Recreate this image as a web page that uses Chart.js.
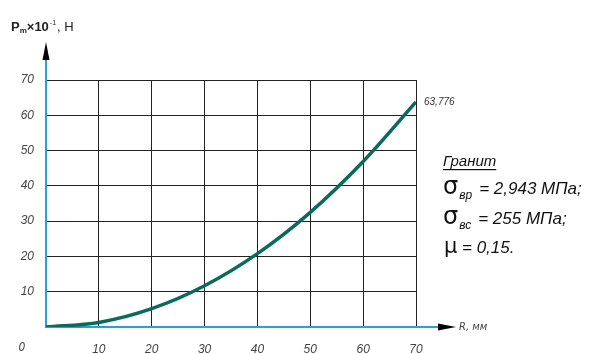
<!DOCTYPE html>
<html>
<head>
<meta charset="utf-8">
<script src="https://cdn.jsdelivr.net/npm/chart.js@4/dist/chart.umd.min.js"></script>
<style>
  html, body { margin: 0; padding: 0; background: #fff; }
  #wrap { width: 594px; height: 354px; }
</style>
</head>
<body>
<div id="wrap"><canvas id="grafico"></canvas></div>
<script>
// R, мм
const radii = [0, 10, 20, 30, 40, 50, 60, 70];
// Pm x 10^-1, H
const forces = [0, 1.3, 5.2, 11.7, 20.8, 32.5, 46.9, 63.776];
const xTicks = [0, 10, 20, 30, 40, 50, 60, 70];
const yTicks = [0, 10, 20, 30, 40, 50, 60, 70];
const endLabel = '63,776';

const axisBlue = '#2b9fd8';
const curveColor = '#0b6a5a';
const italic = 'italic 12px "Liberation Sans Narrow", "DejaVu Sans Condensed", sans-serif';

const decor = {
    id: 'decor',
    afterDraw(chart) {
        const c = chart.ctx;
        const xs = chart.scales.x, ys = chart.scales.y;
        const x0 = xs.getPixelForValue(0), y0 = ys.getPixelForValue(0);
        const xEnd = xs.getPixelForValue(70), yTop = ys.getPixelForValue(70);
        c.save();
        // axis extensions
        c.strokeStyle = axisBlue;
        c.lineWidth = 2;
        c.beginPath();
        c.moveTo(x0, yTop); c.lineTo(x0, yTop - 26);
        c.moveTo(xEnd, y0); c.lineTo(xEnd + 26, y0);
        c.stroke();
        // arrowheads
        c.fillStyle = '#000';
        c.beginPath();
        c.moveTo(x0, yTop - 38); c.lineTo(x0 - 3.5, yTop - 20); c.lineTo(x0 + 3.5, yTop - 20);
        c.closePath(); c.fill();
        c.beginPath();
        c.moveTo(xEnd + 40, y0); c.lineTo(xEnd + 22, y0 - 3.5); c.lineTo(xEnd + 22, y0 + 3.5);
        c.closePath(); c.fill();

        // origin label
        c.fillStyle = '#444';
        c.font = italic;
        c.textAlign = 'center';
        c.textBaseline = 'middle';
        c.fillText('0', 22, 348);

        // x axis title
        c.textAlign = 'left';
        c.font = 'italic 11px "Liberation Sans Narrow", "DejaVu Sans Condensed", sans-serif';
        c.fillText('R, мм', xEnd + 43, y0);

        // y axis title: Pm×10^-1, H
        c.fillStyle = '#222';
        c.textBaseline = 'alphabetic';
        let tx = 11, ty = 31;
        c.font = 'bold 13px "Liberation Sans Narrow", sans-serif';
        c.fillText('P', tx, ty); tx += c.measureText('P').width;
        c.font = 'bold 8px "Liberation Sans Narrow", sans-serif';
        c.fillText('m', tx, ty + 2); tx += c.measureText('m').width;
        c.font = 'bold 13px "Liberation Sans Narrow", sans-serif';
        c.fillText('×10', tx, ty); tx += c.measureText('×10').width;
        c.font = '7px "Liberation Sans Narrow", sans-serif';
        c.fillText('-1', tx + 1, ty - 6); tx += c.measureText('-1').width + 2;
        c.font = '13px "Liberation Sans Narrow", sans-serif';
        c.fillText(', H', tx, ty);

        // end value label
        const meta = chart.getDatasetMeta(0);
        const last = meta.data[meta.data.length - 1];
        c.fillStyle = '#333';
        c.font = 'italic 10px "Liberation Sans Narrow", sans-serif';
        c.textBaseline = 'middle';
        c.fillText(endLabel, last.x + 8, last.y);

        // material block
        const bx = 443;
        c.fillStyle = '#111';
        c.font = 'italic 15px "Liberation Sans Narrow", sans-serif';
        c.textBaseline = 'alphabetic';
        c.fillText('Гранит', bx, 166);
        const w = c.measureText('Гранит').width;
        c.fillRect(bx, 169, w, 1.2);

        const sigma = (sub, rest, y) => {
            c.font = '24px "DejaVu Sans", sans-serif';
            c.fillText('σ', bx, y);
            let px = bx + c.measureText('σ').width + 1;
            c.font = 'italic 12px "Liberation Sans Narrow", sans-serif';
            c.fillText(sub, px, y + 5);
            px += c.measureText(sub).width + 7;
            c.font = 'italic 17px "Liberation Sans Narrow", sans-serif';
            c.fillText(rest, px, y);
        };
        sigma('вр', '= 2,943 МПа;', 194);
        sigma('вс', '= 255 МПа;', 224);
        c.font = '21px "DejaVu Sans", sans-serif';
        c.fillText('μ', bx + 1, 253);
        c.font = 'italic 17px "Liberation Sans Narrow", sans-serif';
        c.fillText('= 0,15.', bx + 19, 253);
        c.restore();
    }
};

new Chart(document.getElementById('grafico'), {
    type: 'line',
    data: {
        datasets: [{
            data: radii.map((r, i) => ({ x: r, y: forces[i] })),
            borderColor: curveColor,
            borderWidth: 3.5,
            pointRadius: 0,
            cubicInterpolationMode: 'monotone',
            fill: false
        }]
    },
    options: {
        responsive: true,
        maintainAspectRatio: false,
        animation: false,
        layout: { padding: { left: 0, top: 80, right: 178, bottom: 0 } },
        plugins: { legend: { display: false }, tooltip: { enabled: false } },
        scales: {
            x: {
                type: 'linear', min: 0, max: 70,
                afterFit(s) { s.height = 27; },
                afterBuildTicks(s) { s.ticks = xTicks.map(v => ({ value: v })); },
                grid: { color: '#222', lineWidth: 1, drawTicks: false },
                border: { color: axisBlue, width: 2 },
                ticks: {
                    padding: 15,
                    color: '#444',
                    font: { family: '"Liberation Sans Narrow", sans-serif', style: 'italic', size: 12 },
                    callback: v => v === 0 ? '' : v
                }
            },
            y: {
                type: 'linear', min: 0, max: 70,
                afterFit(s) { s.width = 46; },
                afterBuildTicks(s) { s.ticks = yTicks.map(v => ({ value: v })); },
                grid: { color: '#222', lineWidth: 1, drawTicks: false },
                border: { color: axisBlue, width: 2 },
                ticks: {
                    padding: 12,
                    color: '#444',
                    font: { family: '"Liberation Sans Narrow", sans-serif', style: 'italic', size: 12 },
                    callback: v => v === 0 ? '' : v
                }
            }
        }
    },
    plugins: [decor]
});
</script>
</body>
</html>
